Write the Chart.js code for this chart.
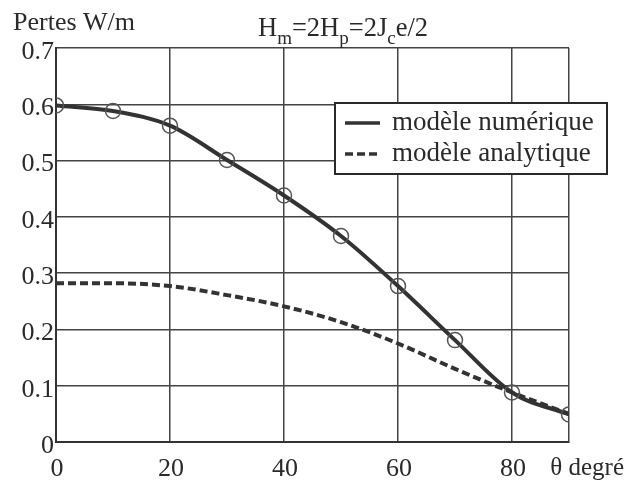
<!DOCTYPE html>
<html>
<head>
<meta charset="utf-8">
<script src="https://cdn.jsdelivr.net/npm/chart.js@4.4.1/dist/chart.umd.min.js"></script>
<style>
  html, body { margin: 0; padding: 0; background: #fff; }
  canvas { display: block; }
</style>
</head>
<body>
<canvas id="pertesChart" width="627" height="485"></canvas>
<script>
'use strict';
// angle theta (degrees) and losses (W/m)
var angles = [0, 10, 20, 30, 40, 50, 60, 70, 80, 90];
var numerique = [0.598, 0.588, 0.562, 0.501, 0.438, 0.366, 0.277, 0.181, 0.088, 0.049];
var analytique = [0.282, 0.282, 0.277, 0.261, 0.241, 0.213, 0.175, 0.130, 0.088, 0.050];
var seriesLabels = ['modèle numérique', 'modèle analytique'];
var xTicks = [0, 20, 40, 60, 80];

var FONT = "'Liberation Serif', 'Times New Roman', serif";
var INK = '#2a2a2a';

function toPoints (ys) {
    return angles.map(function (a, i) { return { x: a, y: ys[i] }; });
}

var decorations = {
    id: 'decorations',
    afterDraw: function (chart) {
        var ctx = chart.ctx;
        ctx.save();
        ctx.fillStyle = INK;
        ctx.textBaseline = 'alphabetic';

        // y axis title
        ctx.font = '26px ' + FONT;
        ctx.textAlign = 'left';
        ctx.fillText('Pertes W/m', 13, 30);

        // title with subscripts: Hm=2Hp=2Jce/2
        var parts = [['H', 0], ['m', 1], ['=2H', 0], ['p', 1], ['=2J', 0], ['c', 1], ['e/2', 0]];
        var x = 258;
        parts.forEach(function (p) {
            ctx.font = (p[1] ? '19px ' : '26.5px ') + FONT;
            ctx.fillText(p[0], x, p[1] ? 44 : 36);
            x += ctx.measureText(p[0]).width;
        });

        // x axis title
        ctx.font = '25px ' + FONT;
        ctx.textAlign = 'right';
        ctx.fillText('θ degré', 624, 475);

        // legend box
        var lx = 335, ly = 103, lw = 272, lh = 71;
        ctx.textAlign = 'left';
        ctx.fillStyle = '#fff';
        ctx.fillRect(lx, ly, lw, lh);
        ctx.strokeStyle = INK;
        ctx.lineWidth = 2;
        ctx.strokeRect(lx, ly, lw, lh);
        chart.data.datasets.forEach(function (ds, i) {
            if (!ds.label) return;
            var y = ly + 20 + i * 31;
            ctx.beginPath();
            ctx.setLineDash(ds.borderDash || []);
            ctx.lineWidth = 3.5;
            ctx.strokeStyle = ds.borderColor;
            ctx.moveTo(lx + 10, y);
            ctx.lineTo(lx + 45, y);
            ctx.stroke();
            ctx.setLineDash([]);
            ctx.fillStyle = INK;
            ctx.font = '27px ' + FONT;
            ctx.textBaseline = 'middle';
            ctx.fillText(ds.label, lx + 57, y);
        });
        ctx.restore();
    }
};

new Chart(document.getElementById('pertesChart').getContext('2d'), {
    type: 'scatter',
    data: {
        datasets: [{
            label: seriesLabels[0],
            data: toPoints(numerique),
            showLine: true,
            borderColor: '#333',
            borderWidth: 4,
            cubicInterpolationMode: 'monotone',
            pointRadius: 7.5,
            pointBorderWidth: 1.5,
            pointBorderColor: '#555',
            pointBackgroundColor: 'rgba(0,0,0,0)'
        }, {
            label: seriesLabels[1],
            data: toPoints(analytique),
            showLine: true,
            borderColor: '#333',
            borderWidth: 4,
            borderDash: [8, 4],
            cubicInterpolationMode: 'monotone',
            pointRadius: 0
        }]
    },
    plugins: [decorations],
    options: {
        responsive: false,
        animation: false,
        layout: { padding: { top: 48, right: 58, left: 0, bottom: 0 } },
        plugins: {
            legend: { display: false },
            tooltip: { enabled: false }
        },
        scales: {
            x: {
                type: 'linear',
                min: 0,
                max: 90,
                afterBuildTicks: function (scale) {
                    scale.ticks = xTicks.concat([90]).map(function (v) { return { value: v }; });
                },
                afterFit: function (scale) { scale.height = 43; },
                ticks: {
                    color: INK,
                    font: { family: FONT, size: 26 },
                    padding: 12,
                    maxRotation: 0,
                    labelOffset: 1,
                    callback: function (v) { return v === 90 ? '' : String(v); }
                },
                grid: { color: '#444', lineWidth: 1.5, drawTicks: false },
                border: { color: '#333', width: 2 }
            },
            y: {
                min: 0,
                max: 0.7,
                afterFit: function (scale) { scale.width = 56; },
                ticks: {
                    stepSize: 0.1,
                    color: INK,
                    font: { family: FONT, size: 26 },
                    padding: 2,
                    labelOffset: 4,
                    callback: function (v) { return v === 0 ? '0' : v.toFixed(1); }
                },
                grid: { color: '#444', lineWidth: 1.5, drawTicks: false },
                border: { color: '#333', width: 2 }
            }
        }
    }
});
</script>
</body>
</html>
